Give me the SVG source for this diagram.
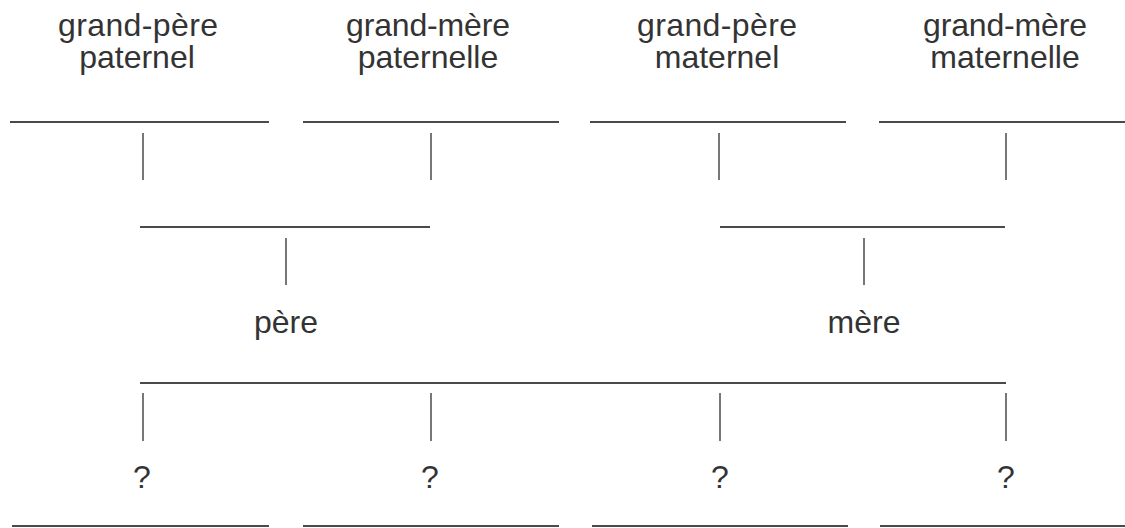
<svg xmlns="http://www.w3.org/2000/svg" width="1125" height="528" viewBox="0 0 1125 528">
<style>
.t{font-family:"Liberation Sans",Arial,sans-serif;font-size:32px;fill:#333;text-anchor:middle}
.h{stroke:#4a4a4a;stroke-width:2;fill:none}
.v{stroke:#555;stroke-width:1.6;fill:none}
</style>
<rect width="1125" height="528" fill="#fff"/>
<g id="gp-paternel"><text class="t" x="138" y="36" textLength="160">grand-père</text><text class="t" x="137" y="68">paternel</text><line class="h" x1="10" y1="122" x2="269" y2="122"/></g>
<g id="gm-paternelle"><text class="t" x="428" y="36" textLength="164">grand-mère</text><text class="t" x="428" y="68">paternelle</text><line class="h" x1="303" y1="122" x2="559" y2="122"/></g>
<g id="gp-maternel"><text class="t" x="717" y="36" textLength="160">grand-père</text><text class="t" x="717" y="68">maternel</text><line class="h" x1="590" y1="122" x2="846" y2="122"/></g>
<g id="gm-maternelle"><text class="t" x="1005" y="36" textLength="164">grand-mère</text><text class="t" x="1005" y="68">maternelle</text><line class="h" x1="879" y1="122" x2="1125" y2="122"/></g>
<g id="pere"><line class="h" x1="140" y1="227" x2="430" y2="227"/><text class="t" x="286" y="333">père</text></g>
<g id="mere"><line class="h" x1="720" y1="227" x2="1005" y2="227"/><text class="t" x="864" y="333">mère</text></g>
<g id="parents"><line class="h" x1="140" y1="383" x2="1006" y2="383"/></g>
<g id="q1"><text class="t" x="142" y="488">?</text><line class="h" x1="12" y1="526" x2="269" y2="526"/></g>
<g id="q2"><text class="t" x="430" y="488">?</text><line class="h" x1="303" y1="526" x2="559" y2="526"/></g>
<g id="q3"><text class="t" x="720" y="488">?</text><line class="h" x1="592" y1="526" x2="848" y2="526"/></g>
<g id="q4"><text class="t" x="1006" y="488">?</text><line class="h" x1="880" y1="526" x2="1125" y2="526"/></g>
<g id="connectors">
<line class="v" x1="143" y1="133" x2="143" y2="180"/>
<line class="v" x1="431" y1="133" x2="431" y2="180"/>
<line class="v" x1="719" y1="133" x2="719" y2="180"/>
<line class="v" x1="1006" y1="133" x2="1006" y2="180"/>
<line class="v" x1="286" y1="238" x2="286" y2="285"/>
<line class="v" x1="864" y1="238" x2="864" y2="285"/>
<line class="v" x1="143" y1="393" x2="143" y2="441"/>
<line class="v" x1="431" y1="393" x2="431" y2="441"/>
<line class="v" x1="720" y1="393" x2="720" y2="441"/>
<line class="v" x1="1006" y1="393" x2="1006" y2="441"/>
</g>
</svg>
